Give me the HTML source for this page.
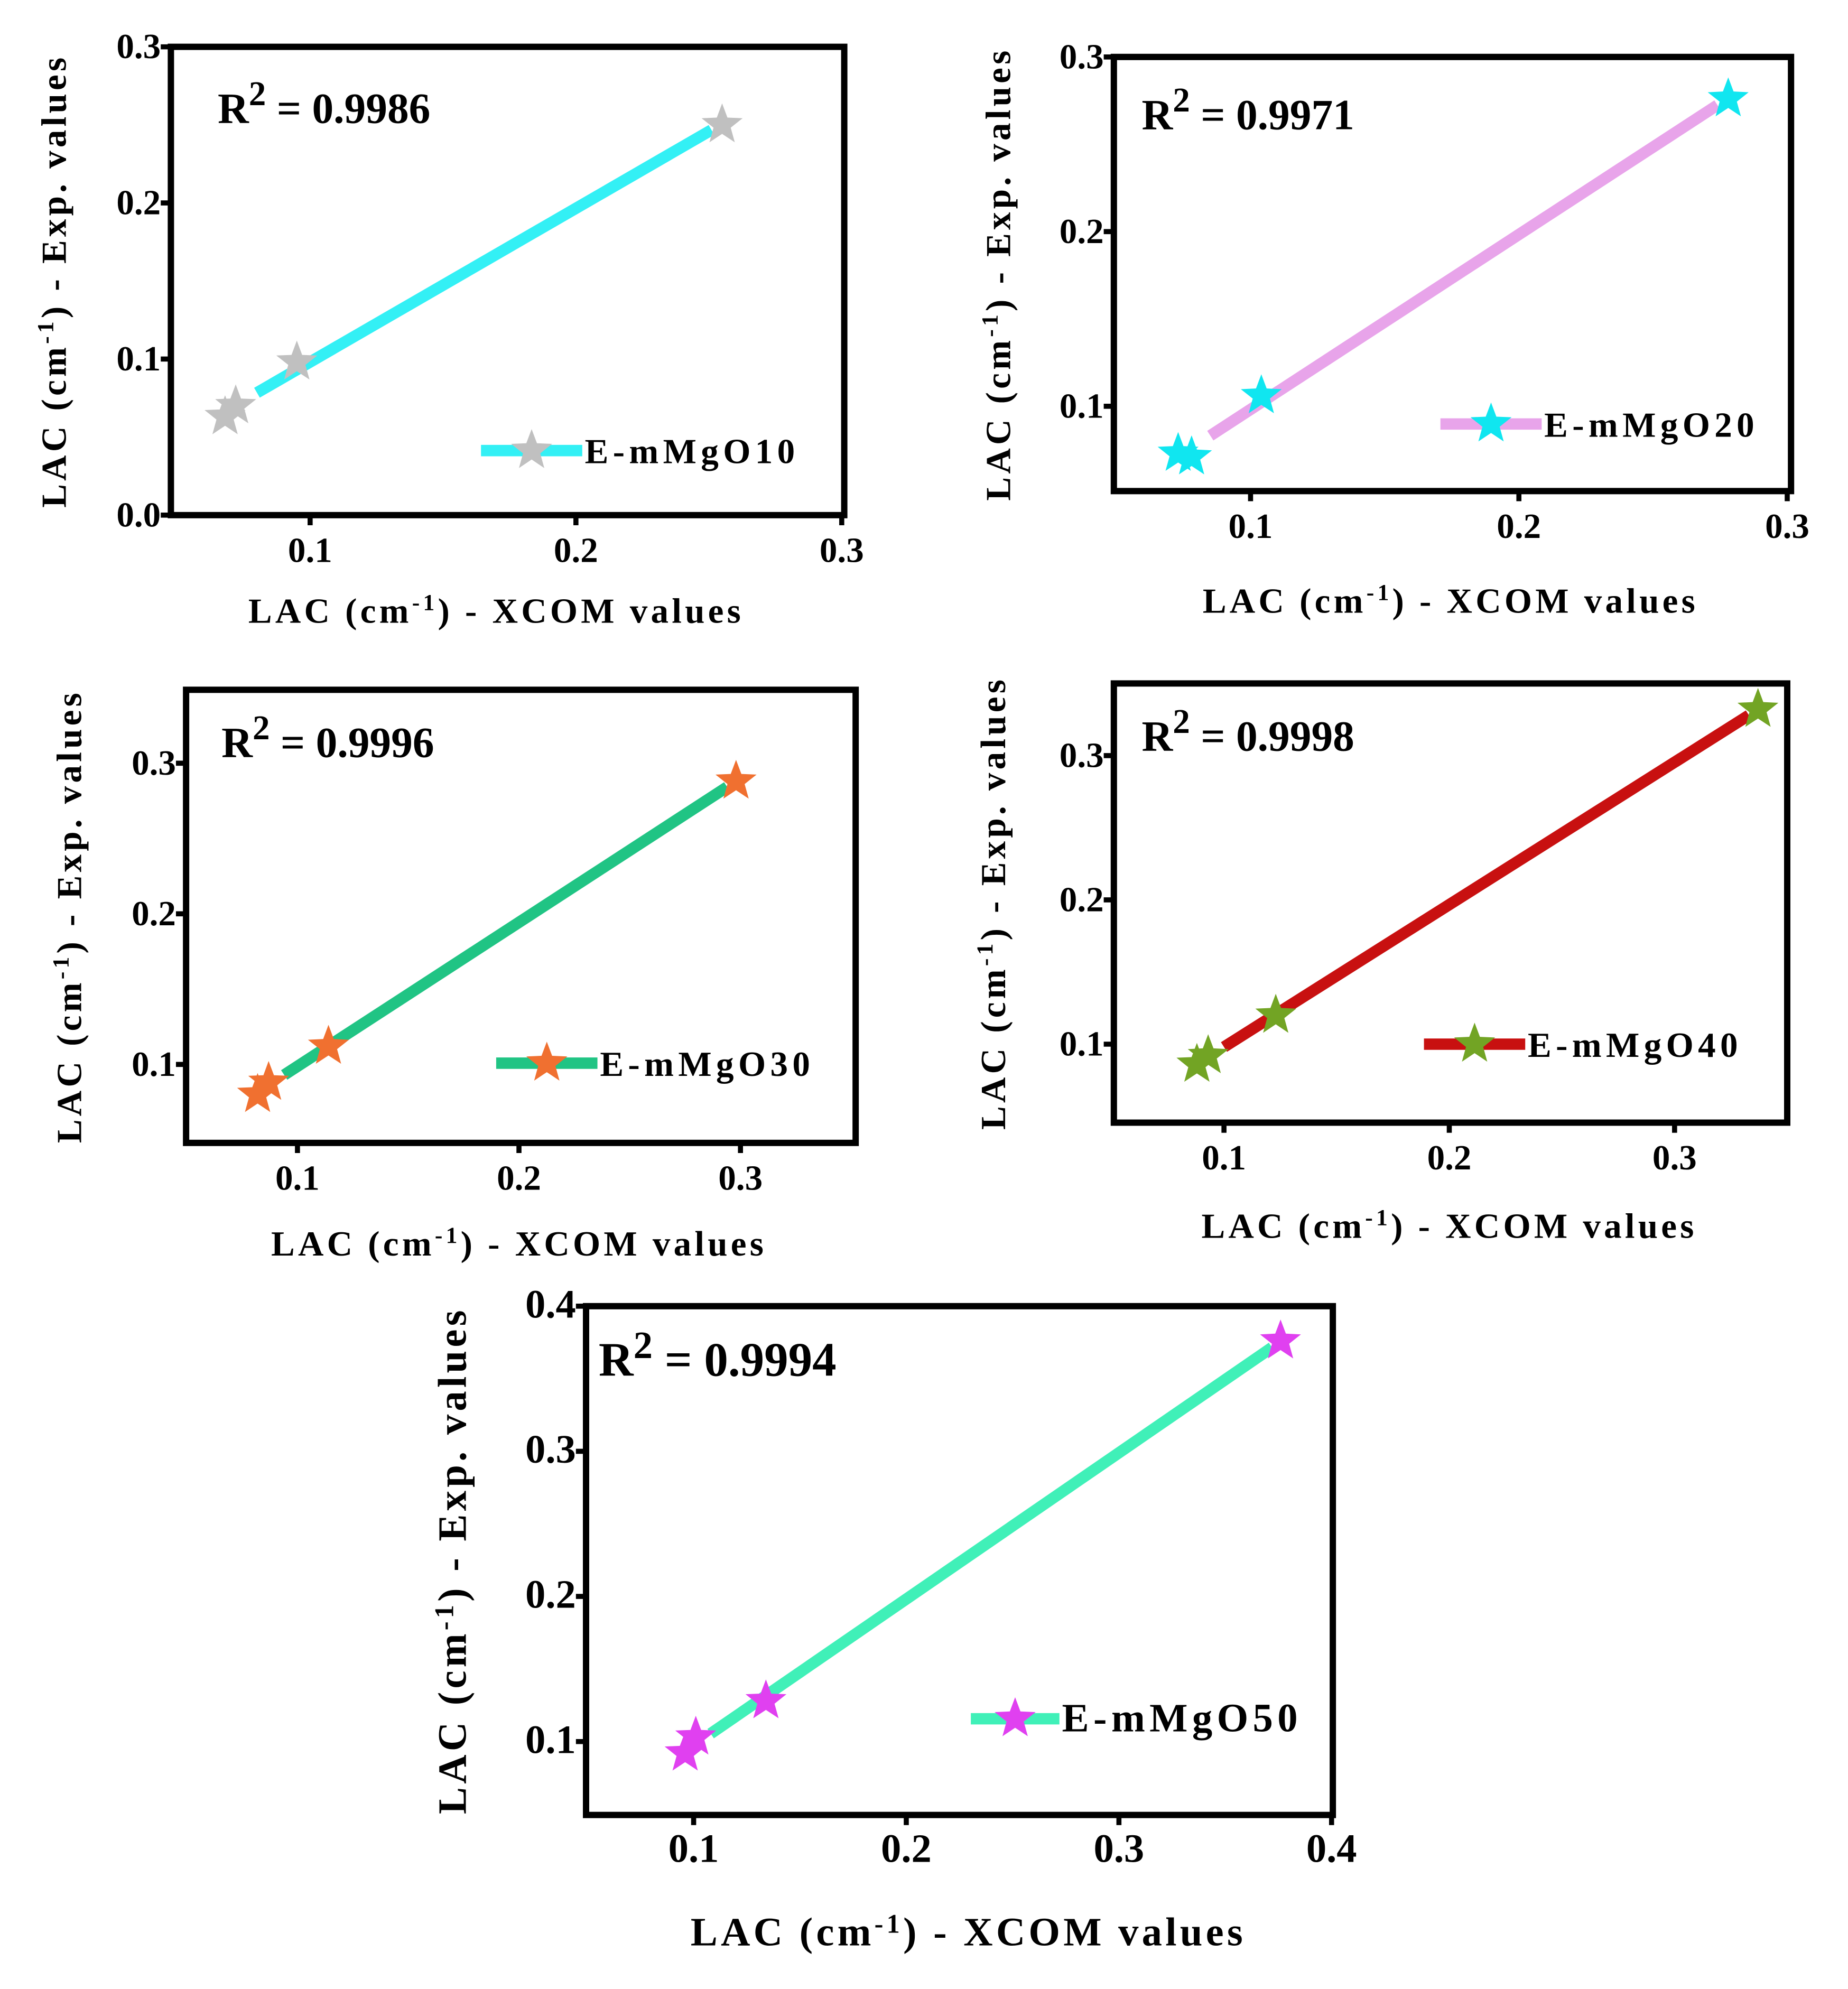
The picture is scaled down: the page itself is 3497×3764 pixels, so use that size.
<!DOCTYPE html>
<html><head><meta charset="utf-8"><style>
html,body{margin:0;padding:0;background:#fff}
svg{display:block}
text{font-family:"Liberation Serif",serif}
</style></head><body>
<svg id="fig" width="3497" height="3764" viewBox="0 0 1460 1571.5" xmlns="http://www.w3.org/2000/svg"></svg>
<script>
// Panel data
const p1x=[0.068,0.072,0.095,0.255]; const p1y=[0.063,0.070,0.098,0.250];
const p2x=[0.073,0.078,0.104,0.278]; const p2y=[0.073,0.071,0.106,0.276];
const p3x=[0.082,0.087,0.114,0.298]; const p3y=[0.080,0.088,0.112,0.288];
const p4x=[0.088,0.093,0.123,0.337]; const p4y=[0.086,0.092,0.120,0.332];
const p5x=[0.096,0.101,0.134,0.376]; const p5y=[0.092,0.103,0.128,0.376];
const r2Labels=["0.9986","0.9971","0.9996","0.9998","0.9994"];
const seriesNames=["E-mMgO10","E-mMgO20","E-mMgO30","E-mMgO40","E-mMgO50"];
const xt1=[0.1,0.2,0.3]; const yt1=[0.0,0.1,0.2,0.3];
const xt2=[0.1,0.2,0.3]; const yt2=[0.1,0.2,0.3];
const xt3=[0.1,0.2,0.3]; const yt3=[0.1,0.2,0.3];
const xt4=[0.1,0.2,0.3]; const yt4=[0.1,0.2,0.3];
const xt5=[0.1,0.2,0.3,0.4]; const yt5=[0.1,0.2,0.3,0.4];

const NS="http://www.w3.org/2000/svg";
const svg=document.getElementById('fig');
function mk(tag,attrs,parent){const e=document.createElementNS(NS,tag);for(const k in attrs)e.setAttribute(k,attrs[k]);(parent||svg).appendChild(e);return e;}
function starPts(cx,cy,R){const r=R*0.42;let s=[];for(let i=0;i<10;i++){const a=-Math.PI/2+i*Math.PI/5;const rr=i%2?r:R;s.push((cx+rr*Math.cos(a)).toFixed(1)+','+(cy+rr*Math.sin(a)).toFixed(1));}return s.join(' ');}

const panels=[
 {xs:p1x,ys:p1y,xt:xt1,yt:yt1,L:135,R:667,T:37,B:407,xa:0.1,xpa:245,xb:0.3,xpb:665,ya:0.3,ypa:37,yb:0.0,ypb:407,line:"#33f0f5",star:"#c0c0c0",fs:26,r2x:172,r2y:97,r2fs:34,legX:380,legY:356,legLine:80,xtitleY:492,ytitleX:52,xtitleX:392},
 {xs:p2x,ys:p2y,xt:xt2,yt:yt2,L:880,R:1415,T:45,B:388,xa:0.1,xpa:988,xb:0.3,xpb:1412,ya:0.3,ypa:45,yb:0.1,ypb:321,line:"#e8a4ea",star:"#10e6f0",fs:26,r2x:902,r2y:102,r2fs:34,legX:1138,legY:335,legLine:80,xtitleY:484,ytitleX:798,xtitleX:1146},
 {xs:p3x,ys:p3y,xt:xt3,yt:yt3,L:147,R:676,T:545,B:903,xa:0.1,xpa:235,xb:0.3,xpb:585,ya:0.3,ypa:603,yb:0.1,ypb:841,line:"#20c484",star:"#f07030",fs:26,r2x:175,r2y:598,r2fs:34,legX:392,legY:840,legLine:80,xtitleY:992,ytitleX:64,xtitleX:410},
 {xs:p4x,ys:p4y,xt:xt4,yt:yt4,L:880,R:1412,T:540,B:887,xa:0.1,xpa:967,xb:0.3,xpb:1323,ya:0.3,ypa:597,yb:0.1,ypb:825,line:"#c81010",star:"#72a424",fs:26,r2x:902,r2y:593,r2fs:34,legX:1125,legY:825,legLine:80,xtitleY:978,ytitleX:794,xtitleX:1145},
 {xs:p5x,ys:p5y,xt:xt5,yt:yt5,L:463,R:1053,T:1032,B:1434,xa:0.1,xpa:548,xb:0.4,xpb:1052,ya:0.4,ypa:1032,yb:0.1,ypb:1376,line:"#40f0b8",star:"#e040f0",fs:30,r2x:473,r2y:1087,r2fs:38,legX:767,legY:1358,legLine:70,xtitleY:1537,ytitleX:368,xtitleX:765}
];

panels.forEach((p,i)=>{
  const g=mk('g',{});
  
  
  const sx=v=>p.xpa+(v-p.xa)*(p.xpb-p.xpa)/(p.xb-p.xa);
  const sy=v=>p.ypa+(v-p.ya)*(p.ypb-p.ypa)/(p.yb-p.ya);
  const n=p.xs.length;let mx=0,my=0;for(let k=0;k<n;k++){mx+=p.xs[k];my+=p.ys[k];}mx/=n;my/=n;
  let sxx=0,sxy=0;for(let k=0;k<n;k++){sxx+=(p.xs[k]-mx)**2;sxy+=(p.xs[k]-mx)*(p.ys[k]-my);}
  const b=sxy/sxx,a=my-b*mx;
  const x0=Math.min(...p.xs)+0.012,x1=Math.max(...p.xs)-0.004;
  const ln=mk('line',{x1:sx(x0),y1:sy(a+b*x0),x2:sx(x1),y2:sy(a+b*x1),stroke:p.line,'stroke-width':9},g);
  
  
  p.xs.forEach((v,k)=>{
    const s=mk('polygon',{points:starPts(sx(v),sy(p.ys[k]),17),fill:p.star},g);
    
    
  });
  const fr=mk('rect',{x:p.L,y:p.T,width:p.R-p.L,height:p.B-p.T,fill:'none',stroke:'#000','stroke-width':5},g);
  
  
  p.xt.forEach(v=>{
    const X=sx(v);
    mk('line',{x1:X,y1:p.B,x2:X,y2:p.B+8,stroke:'#000','stroke-width':4},g);
    const t=mk('text',{x:X,y:p.B+37,'font-size':p.fs+2,'font-weight':'bold','text-anchor':'middle'},g);
    t.textContent=String(v);
    
    
  });
  p.yt.forEach(v=>{
    const Y=sy(v);
    mk('line',{x1:p.L-8,y1:Y,x2:p.L,y2:Y,stroke:'#000','stroke-width':4},g);
    const t=mk('text',{x:p.L-8,y:Y+9,'font-size':p.fs+2,'font-weight':'bold','text-anchor':'end'},g);
    t.textContent=v.toFixed(1);
    
    
  });
  const r=mk('text',{x:p.r2x,y:p.r2y,'font-size':p.r2fs,'font-weight':'bold'},g);
  r.innerHTML='R<tspan dy="-14" font-size="'+(p.r2fs*0.8)+'">2</tspan><tspan dy="14"> = '+r2Labels[i]+'</tspan>';
  
  
  const lg=mk('g',{},g);
  
  
  mk('line',{x1:p.legX,y1:p.legY,x2:p.legX+p.legLine,y2:p.legY,stroke:p.line,'stroke-width':9},lg);
  mk('polygon',{points:starPts(p.legX+p.legLine/2,p.legY,17),fill:p.star},lg);
  const lt=mk('text',{x:p.legX+p.legLine+2,y:p.legY+10,'font-size':p.fs+2,'font-weight':'bold','letter-spacing':3.5},lg);
  lt.textContent=seriesNames[i];
  const xtit=mk('text',{x:p.xtitleX,y:p.xtitleY,'font-size':p.fs+2,'font-weight':'bold','text-anchor':'middle','letter-spacing':2.6},g);
  xtit.innerHTML='LAC (cm<tspan dy="-10" font-size="'+(p.fs*0.7)+'">-1</tspan><tspan dy="10">) - XCOM values</tspan>';
  
  
  const cy=(p.T+p.B)/2;
  const ytit=mk('text',{x:0,y:0,'font-size':p.fs+2,'font-weight':'bold','text-anchor':'middle','letter-spacing':2.6,transform:'translate('+p.ytitleX+','+cy+') rotate(-90)'},g);
  ytit.innerHTML='LAC (cm<tspan dy="-10" font-size="'+(p.fs*0.7)+'">-1</tspan><tspan dy="10">) - Exp. values</tspan>';
  
  
});
</script>
</body></html>
